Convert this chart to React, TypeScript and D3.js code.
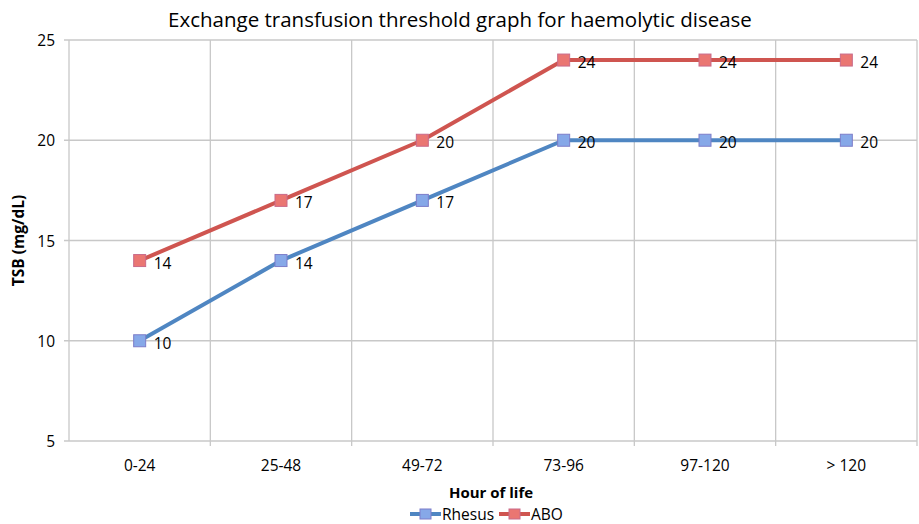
import { useEffect, useRef } from 'react';
import * as d3 from 'd3';

const categories = ['0-24', '25-48', '49-72', '73-96', '97-120', '> 120'];
const rhesus = [10, 14, 17, 20, 20, 20];
const abo = [14, 17, 20, 24, 24, 24];
const yTicks = [5, 10, 15, 20, 25];

const W = 919;
const H = 524;
const FONT = '"Open Sans", "Liberation Sans", sans-serif';

export default function App() {
  const svgRef = useRef<SVGSVGElement>(null);

  useEffect(() => {
    const svg = d3.select(svgRef.current);
    svg.selectAll('*').remove();

    const m = { top: 40, right: 2, bottom: 83, left: 69 };
    const x = d3.scaleBand<string>().domain(categories).range([m.left, W - m.right]);
    const y = d3.scaleLinear().domain([5, 25]).range([H - m.bottom, m.top]);

    // title
    svg.append('text')
      .attr('x', 460).attr('y', 27).attr('text-anchor', 'middle')
      .attr('font-family', FONT).attr('font-size', 20.5).attr('fill', '#000')
      .text('Exchange transfusion threshold graph for haemolytic disease');

    // grid
    const grid = svg.append('g').attr('stroke', '#c8c8c8').attr('stroke-width', 1.3);
    yTicks.forEach((t) => {
      grid.append('line')
        .attr('x1', m.left - 5).attr('x2', W - m.right)
        .attr('y1', y(t)).attr('y2', y(t));
    });
    const bounds = categories.map((c) => x(c)!).concat([W - m.right]);
    bounds.forEach((b, i) => {
      grid.append('line')
        .attr('x1', b).attr('x2', b)
        .attr('y1', m.top).attr('y2', y(5) + (i === 0 ? 0 : 5));
    });

    // y tick labels
    svg.append('g').selectAll('text').data(yTicks).join('text')
      .attr('x', 55).attr('y', (d) => y(d) + 6).attr('text-anchor', 'end')
      .attr('font-family', FONT).attr('font-size', 15.5).attr('fill', '#000')
      .text((d) => d);

    // x tick labels
    svg.append('g').selectAll('text').data(categories).join('text')
      .attr('x', (d) => x(d)! + x.bandwidth() / 2).attr('y', 471).attr('text-anchor', 'middle')
      .attr('font-family', FONT).attr('font-size', 15.5).attr('fill', '#000')
      .text((d) => d);

    // axis titles
    svg.append('text')
      .attr('transform', `translate(24,${(m.top + y(5)) / 2}) rotate(-90)`)
      .attr('text-anchor', 'middle')
      .attr('font-family', FONT).attr('font-size', 15.5).attr('font-weight', 700)
      .text('TSB (mg/dL)');
    svg.append('text')
      .attr('x', 491).attr('y', 498).attr('text-anchor', 'middle')
      .attr('font-family', FONT).attr('font-size', 15).attr('font-weight', 700)
      .text('Hour of life');

    const cx = (c: string) => x(c)! + x.bandwidth() / 2;
    const series = [
      { name: 'Rhesus', values: rhesus, line: '#4f86c2', fill: '#86a8e8', stroke: '#7d7dc9' },
      { name: 'ABO', values: abo, line: '#cf5550', fill: '#ea7672', stroke: '#c96a8a' },
    ];

    const line = d3.line<number>()
      .x((_, i) => cx(categories[i]))
      .y((d) => y(d));

    series.forEach((s) => {
      svg.append('path')
        .attr('d', line(s.values))
        .attr('fill', 'none').attr('stroke', s.line).attr('stroke-width', 4)
        .attr('stroke-linejoin', 'round');
      const g = svg.append('g');
      s.values.forEach((v, i) => {
        const px = cx(categories[i]);
        const py = y(v);
        g.append('rect')
          .attr('x', px - 6).attr('y', py - 6).attr('width', 12).attr('height', 12)
          .attr('fill', s.fill).attr('stroke', s.stroke).attr('stroke-width', 1);
        g.append('text')
          .attr('x', px + 14).attr('y', py + 8)
          .attr('font-family', FONT).attr('font-size', 15.5).attr('fill', '#000')
          .text(v);
      });
    });

    // legend
    const legendItems = [
      { s: series[0], x: 410 },
      { s: series[1], x: 499 },
    ];
    legendItems.forEach(({ s, x: lx }) => {
      const ly = 514;
      svg.append('line')
        .attr('x1', lx).attr('x2', lx + 31).attr('y1', ly).attr('y2', ly)
        .attr('stroke', s.line).attr('stroke-width', 4);
      svg.append('rect')
        .attr('x', lx + 10).attr('y', ly - 5).attr('width', 11).attr('height', 10)
        .attr('fill', s.fill).attr('stroke', s.stroke);
      svg.append('text')
        .attr('x', lx + 32).attr('y', ly + 6)
        .attr('font-family', FONT).attr('font-size', 15.5).attr('fill', '#000')
        .text(s.name);
    });
  }, []);

  return (
    <svg
      ref={svgRef}
      width={W}
      height={H}
      style={{ position: 'absolute', left: 0, top: 0, background: '#fff' }}
    />
  );
}
